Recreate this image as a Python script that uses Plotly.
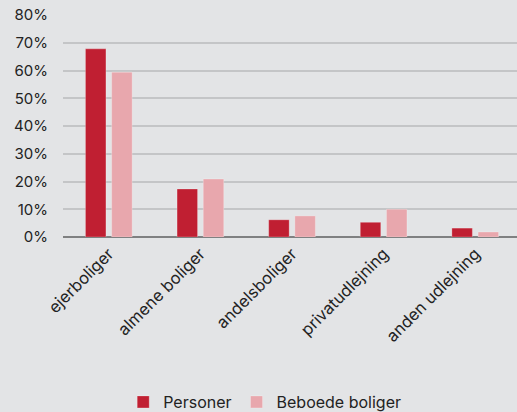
import plotly.graph_objects as go

categories = ["ejerboliger", "almene boliger", "andelsboliger", "privatudlejning", "anden udlejning"]
personer = [67.8, 17.3, 6.2, 5.3, 3.2]
beboede = [59.4, 20.9, 7.6, 10.0, 1.8]
y_ticks = [0, 10, 20, 30, 40, 50, 60, 70, 80]
y_tick_labels = [f"{v}%" for v in y_ticks]

fig = go.Figure()
fig.add_trace(go.Bar(x=categories, y=personer, name="Personer",
                     marker=dict(color="#C01F32", line=dict(color="rgba(255,255,255,0.25)", width=1))))
fig.add_trace(go.Bar(x=categories, y=beboede, name="Beboede boliger",
                     marker=dict(color="#E8A7AD", line=dict(color="rgba(255,255,255,0.25)", width=1))))

fig.update_layout(
    width=517, height=412,
    paper_bgcolor="#E3E4E6", plot_bgcolor="#E3E4E6",
    margin=dict(l=63, r=0, t=15, b=175, autoexpand=False),
    barmode="group", bargap=0.428, bargroupgap=0.218,
    font=dict(family="Inter, Noto Sans, sans-serif", size=15, color="#222222"),
    showlegend=True,
    legend=dict(orientation="h", xref="container", yref="container",
                x=0.512, xanchor="center", y=0.0655, yanchor="top",
                font=dict(size=16, color="#222222"), itemwidth=30,
                traceorder="normal"),
)
fig.update_xaxes(type="category", range=[-0.5, 4.456], tickangle=-45,
                 showgrid=False, showline=False, ticks="",
                 ticklabelstandoff=3, tickfont=dict(size=16.5))
fig.update_yaxes(range=[0, 80], tickvals=y_ticks, ticktext=y_tick_labels,
                 showgrid=True, gridcolor="#C4C5C7", gridwidth=1.5,
                 zeroline=True, zerolinecolor="#7F8081", zerolinewidth=2,
                 ticks="", ticklabelstandoff=14, tickfont=dict(size=15))

fig.write_html("out.html", config={"displayModeBar": False})
with open("out.html", encoding="utf-8") as f:
    html = f.read()
html = html.replace("<head>", "<head><style>html,body{margin:0;padding:0;background:#E3E4E6;}</style>", 1)
with open("out.html", "w", encoding="utf-8") as f:
    f.write(html)
